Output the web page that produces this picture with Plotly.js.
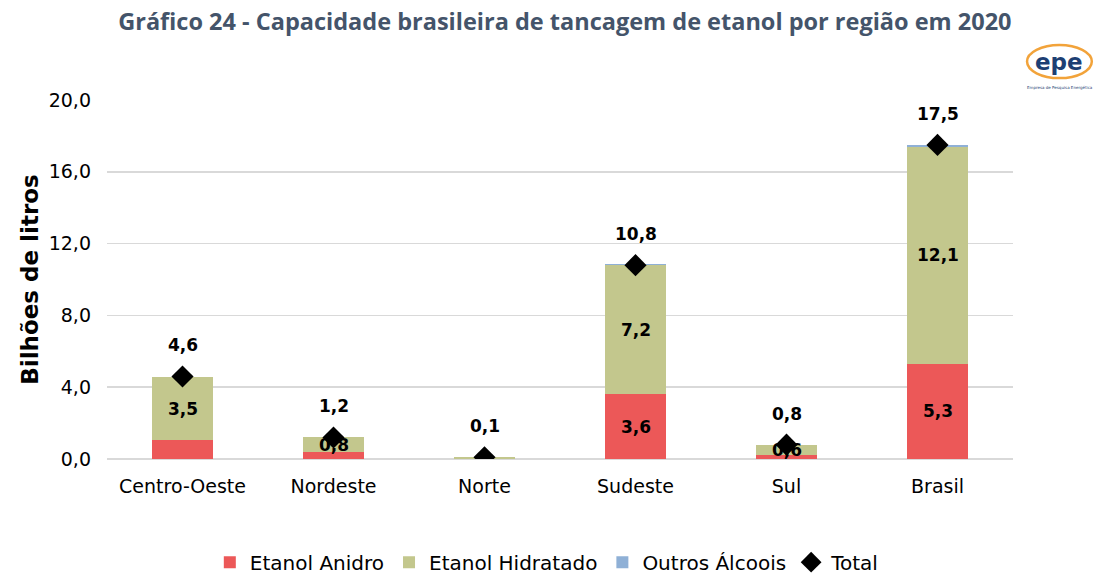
<!DOCTYPE html>
<html>
<head>
<meta charset="utf-8">
<script src="https://cdn.plot.ly/plotly-3.0.1.min.js"></script>
<style>body{margin:0;padding:0;background:#fff;} #chart{width:1099px;height:577px;}</style>
</head>
<body>
<div id="chart"></div>
<script>
const categories = ['Centro-Oeste', 'Nordeste', 'Norte', 'Sudeste', 'Sul', 'Brasil'];
const anidro = [1.05, 0.4, 0.02, 3.6, 0.2, 5.3];
const hidratado = [3.5, 0.8, 0.07, 7.2, 0.6, 12.1];
const outros = [0.02, 0.0, 0.0, 0.05, 0.0, 0.08];
const total = [4.6, 1.2, 0.1, 10.8, 0.8, 17.5];
const anidroLabels = ['', '', '', '3,6', '', '5,3'];
const hidratadoLabels = ['3,5', '0,8', '', '7,2', '0,6', '12,1'];
const totalLabels = ['4,6', '1,2', '0,1', '10,8', '0,8', '17,5'];
const yTicks = [0, 4, 8, 12, 16, 20];

const FONT = 'DejaVu Sans, Verdana, sans-serif';
const labelFont = {family: FONT, size: 17, color: '#000', weight: 'bold'};

const traces = [
  {type: 'bar', name: 'Etanol Anidro', x: categories, y: anidro, marker: {color: '#EC5858'}, hoverinfo: 'skip'},
  {type: 'bar', name: 'Etanol Hidratado', x: categories, y: hidratado, marker: {color: '#C3C78D'}, hoverinfo: 'skip'},
  {type: 'bar', name: 'Outros Álcoois', x: categories, y: outros, marker: {color: '#8FB0D6'}, hoverinfo: 'skip'},
  {type: 'scatter', mode: 'markers', name: 'Total', x: categories, y: total,
   marker: {symbol: 'diamond', color: '#000', size: 17}, hoverinfo: 'skip'}
];

const annotations = [];
categories.forEach((c, i) => {
  annotations.push({x: c, y: total[i], xref: 'x', yref: 'y', text: totalLabels[i], showarrow: false, yshift: 31, font: labelFont});
  if (hidratadoLabels[i]) annotations.push({x: c, y: anidro[i] + hidratado[i] / 2, xref: 'x', yref: 'y', text: hidratadoLabels[i], showarrow: false, font: labelFont});
  if (anidroLabels[i]) annotations.push({x: c, y: anidro[i] / 2, xref: 'x', yref: 'y', text: anidroLabels[i], showarrow: false, font: labelFont});
});
// logo text
annotations.push({xref: 'paper', yref: 'paper', x: 1.0508, y: 1.106, xanchor: 'center', yanchor: 'middle', text: 'epe', showarrow: false,
  font: {family: 'DejaVu Sans, sans-serif', size: 23, color: '#1d3f73', weight: 'bold'}});
annotations.push({xref: 'paper', yref: 'paper', x: 1.052, y: 1.036, xanchor: 'center', yanchor: 'middle', text: 'Empresa de Pesquisa Energética', showarrow: false,
  font: {family: 'DejaVu Sans, sans-serif', size: 4, color: '#1d3f73'}});

const layout = {
  width: 1099, height: 577,
  margin: {l: 107, r: 86, t: 100, b: 118, autoexpand: false},
  paper_bgcolor: '#fff', plot_bgcolor: '#fff',
  separators: ',.',
  barmode: 'stack', bargap: 0.6,
  title: {text: 'Gráfico 24 - Capacidade brasileira de tancagem de etanol por região em 2020',
    font: {family: 'Open Sans, sans-serif', size: 23.5, color: '#44546A', weight: 'bold'},
    x: 0.514, xanchor: 'center', y: 0.962, yanchor: 'middle'},
  xaxis: {type: 'category', showgrid: false, showline: false, zeroline: false, ticks: '',
    ticklabelstandoff: 14, automargin: false,
    tickfont: {family: FONT, size: 19, color: '#000'}},
  yaxis: {range: [0, 20], tickvals: yTicks, tickformat: '.1f', showgrid: true, gridcolor: '#D9D9D9', gridwidth: 1.5,
    zeroline: true, zerolinecolor: '#D9D9D9', zerolinewidth: 1.5, showline: false, ticks: '',
    ticklabelstandoff: 15, automargin: false,
    tickfont: {family: FONT, size: 19, color: '#000'},
    title: {text: 'Bilhões de litros', font: {family: FONT, size: 23, color: '#000', weight: 'bold'}, standoff: 3}},
  legend: {orientation: 'h', x: 0.486, xanchor: 'center', y: -0.233, yanchor: 'top', traceorder: 'normal',
    font: {family: FONT, size: 20, color: '#000'}, itemwidth: 30},
  showlegend: true,
  annotations: annotations,
  shapes: [
    {type: 'circle', xref: 'paper', yref: 'paper', x0: 1.0155, x1: 1.087, y0: 1.061, y1: 1.153,
     line: {color: '#F2A33A', width: 2.5}, fillcolor: 'rgba(0,0,0,0)'}
  ]
};

Plotly.newPlot('chart', traces, layout, {displayModeBar: false, staticPlot: true});
</script>
</body>
</html>
